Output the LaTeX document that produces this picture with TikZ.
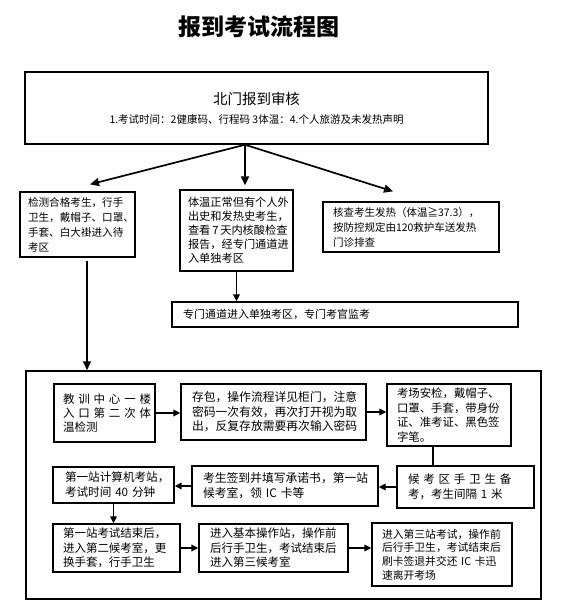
\documentclass[tikz,border=0pt]{standalone}
\usepackage{fontspec}
\setmainfont{Noto Sans CJK SC}
\usetikzlibrary{arrows.meta,calc}
\newcommand\myfs[2]{\fontsize{#1}{#2}\selectfont}
\begin{document}
\begin{tikzpicture}[x=1pt,y=-1pt,
  box/.style={draw, line width=1.3pt, inner ysep=0pt, align=left},
  arr/.style={line width=1.6pt, -{Triangle[length=7pt,width=6.5pt]}},
  bigarr/.style={line width=1.7pt, -{Triangle[length=9pt,width=8pt]}},
  plain/.style={line width=1.6pt}
]
\useasboundingbox[fill=white] (0,0) rectangle (560,616);

% title
\node[font=\myfs{23}{26}\bfseries] (title) at (259,27) {报到考试流程图};

% top box
\node[draw, line width=1.5pt, minimum width=463pt, minimum height=72pt, inner sep=0pt, align=center] (top) at (256.5,108)
 {\myfs{14.5}{16}北门报到审核\\[7pt]\myfs{10.5}{12}1.考试时间：2健康码、行程码~3体温：4.个人旅游及未发热声明};

% second row
\node[box, minimum width=115pt, minimum height=65pt, text width=99pt, inner xsep=8pt, font=\myfs{10.6}{15}] (lbox) at (77.5,224.5)
 {检测合格考生，行手\\卫生，戴帽子、口罩、\\手套、白大褂进入待\\考区};
\node[box, minimum width=113pt, minimum height=81pt, text width=97pt, inner xsep=8pt, font=\myfs{11.2}{14}] (mbox) at (236.5,230.5)
 {体温正常但有个人外\\出史和发热史考生，\\查看\,7\,天内核酸检查\\报告，经专门通道进\\入单独考区};
\node[box, minimum width=176pt, minimum height=50pt, text width=156pt, inner xsep=10pt, font=\myfs{10.5}{15}] (rbox) at (411,227)
 {核查考生发热（体温≧37.3），\\按防控规定由120救护车送发热\\门诊排查};
\node[box, minimum width=346pt, minimum height=25pt, text width=324pt, inner xsep=11pt, font=\myfs{11}{14}] (sbox) at (345,314.5)
 {专门通道进入单独考区，专门考官监考};

% big frame
\node[draw, line width=1.5pt, minimum width=515pt, minimum height=228pt, inner sep=0pt] (big) at (283.5,485) {};

% inner row 1
\node[box, minimum width=101pt, minimum height=58pt, text width=83pt, inner xsep=9pt, font=\myfs{11.5}{13.8}] (A) at (104.5,413)
 {\makebox[83pt][s]{教 训 中 心 一 楼}\\\makebox[83pt][s]{入 口 第 二 次 体}\\温检测};
\node[box, minimum width=185pt, minimum height=56pt, text width=163pt, inner xsep=11pt, font=\myfs{11.8}{14.5}] (B) at (273.5,412)
 {存包，操作流程详见柜门，注意\\密码一次有效，再次打开视为取\\出，反复存放需要再次输入密码};
\node[box, minimum width=124pt, minimum height=62pt, text width=104pt, inner xsep=10pt, font=\myfs{11.4}{14.5}] (C) at (449,415)
 {考场安检，戴帽子、\\口罩、手套，带身份\\证、准考证、黑色签\\字笔。};

% inner row 2
\node[box, minimum width=137pt, minimum height=42pt, text width=115pt, inner xsep=11pt, font=\myfs{11.5}{15}] (D) at (465.5,487)
 {\makebox[94pt][s]{候 考 区 手 卫 生 备}\\考，考生间隔~1~米};
\node[box, minimum width=186pt, minimum height=40pt, text width=164pt, inner xsep=11pt, font=\myfs{11.8}{15}] (E) at (285,486)
 {考生签到并填写承诺书，第一站\\候考室，领~IC~卡等};
\node[box, minimum width=121pt, minimum height=36pt, text width=97pt, inner xsep=12pt, font=\myfs{11.6}{15}] (F) at (113.5,485)
 {第一站计算机考站，\\考试时间~40~分钟};

% inner row 3
\node[box, minimum width=127pt, minimum height=48pt, text width=107pt, inner xsep=10pt, font=\myfs{11.5}{14.5}] (G) at (116.5,548)
 {第一站考试结束后，\\进入第二候考室，更\\换手套，行手卫生};
\node[box, minimum width=149pt, minimum height=48pt, text width=127pt, inner xsep=11pt, font=\myfs{11.5}{14.5}] (H) at (273.5,548)
 {进入基本操作站，操作前\\后行手卫生，考试结束后\\进入第三候考室};
\node[box, minimum width=140pt, minimum height=63pt, text width=120pt, inner xsep=10pt, font=\myfs{10.8}{13.6}] (I) at (442,554.5)
 {进入第三站考试，操作前\\后行手卫生，考试结束后\\刷卡签退并交还~IC~卡迅\\速离开考场};

% connectors from top box
\coordinate (hub) at ([xshift=-11.5pt]top.south);
\draw[bigarr] (hub) -- ([xshift=12.5pt,yshift=7pt]lbox.north);
\draw[bigarr] (hub) -- ([xshift=8.5pt,yshift=4pt]mbox.north);
\draw[bigarr] (hub) -- ([xshift=-18pt,yshift=10pt]rbox.north);
\draw[arr] (mbox.south) -- (mbox.south |- sbox.north);
\coordinate (lstart) at ([xshift=9.5pt,yshift=-3pt]lbox.south);
\draw[bigarr] (lstart) -- (lstart |- big.north);

% inner connectors
\draw[arr] (A.east) -- (A.east -| B.west);
\draw[arr] (B.east) -- (B.east -| C.west);
\coordinate (cd) at ([xshift=-16pt]C.south);
\draw[plain] (cd) -- (cd |- D.north);
\draw[arr] (D.west) -- (D.west -| E.east);
\draw[arr] (E.west) -- (E.west -| F.east);
\draw[arr] (F.south) -- (F.south |- G.north);
\draw[arr] (G.east) -- (G.east -| H.west);
\draw[arr] (H.east) -- (H.east -| I.west);
\end{tikzpicture}
\end{document}
